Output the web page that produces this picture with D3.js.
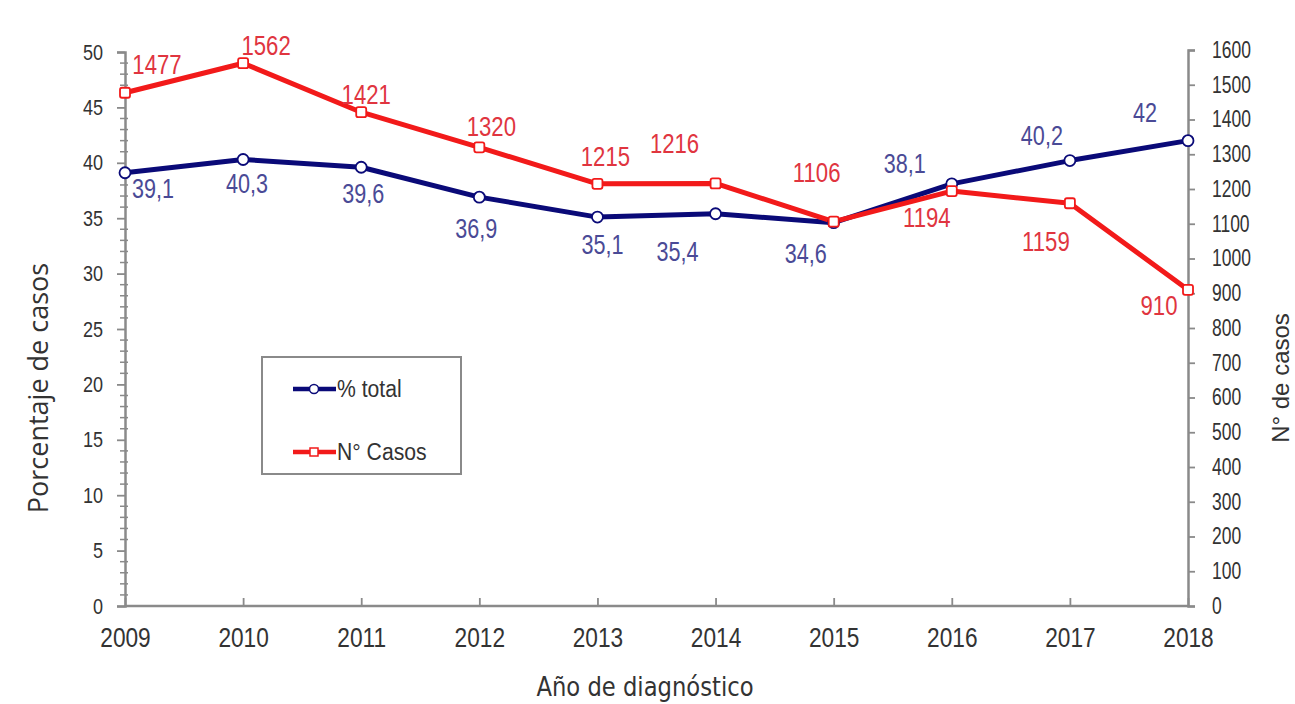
<!DOCTYPE html>
<html><head><meta charset="utf-8">
<script src="https://cdn.jsdelivr.net/npm/d3@7"></script>
<style>
body{margin:0;background:#fff;}
svg{display:block;font-family:"Liberation Sans",Arial,sans-serif;}
</style></head><body>
<svg id="c" width="1295" height="704"></svg>
<script>
const years = [2009,2010,2011,2012,2013,2014,2015,2016,2017,2018];
const pctTotal = [39.1,40.3,39.6,36.9,35.1,35.4,34.6,38.1,40.2,42];
const numCasos = [1477,1562,1421,1320,1215,1216,1106,1194,1159,910];
const pctLabels = ["39,1","40,3","39,6","36,9","35,1","35,4","34,6","38,1","40,2","42"];
const leftTicks = d3.range(0,51,5);
const rightTicks = d3.range(0,1601,100);
// label offsets (dx, dy of text centre) relative to point
const pctOff = [[28,16],[4,24],[2,26],[-3,31],[5,27],[-38,38],[-28,31],[-47,-21],[-28,-25],[-43,-28]];
const casOff = [[32,-28],[23,-18],[5,-18],[12,-21],[8,-28],[-41,-40],[-17,-49],[-25,26],[-24,38],[-29,16]];

const svg = d3.select("#c");
const x = d3.scaleLinear().domain([2009,2018]).range([125,1188]);
const yL = d3.scaleLinear().domain([0,50]).range([606,52]);
const yR = d3.scaleLinear().domain([0,1600]).range([606,50]);
const axisColor = "#8a8a8a";
const textColor = "#333";

function condense(sel, f){
  sel.each(function(){
    const w = this.getComputedTextLength();
    d3.select(this).attr("textLength", w*f).attr("lengthAdjust","spacingAndGlyphs");
  });
}

// left axis
const gL = svg.append("g").attr("transform","translate(125,0)");
gL.call(d3.axisLeft(yL).tickValues(leftTicks).tickSize(8).tickPadding(14).tickFormat(d3.format("d")));
gL.selectAll(".minor").data(d3.range(0,51,1).filter(d=>d%5)).enter().append("line")
  .attr("x1",-5).attr("x2",3).attr("y1",d=>yL(d)).attr("y2",d=>yL(d)).attr("stroke",axisColor).attr("stroke-width",1.5);
// right axis
const gR = svg.append("g").attr("transform","translate(1188,0)");
gR.call(d3.axisRight(yR).tickValues(rightTicks).tickSize(7).tickPadding(17).tickFormat(d3.format("d")));
// bottom axis
const gB = svg.append("g").attr("transform","translate(0,606)");
gB.call(d3.axisBottom(x).tickValues(years).tickSize(-8).tickPadding(22).tickFormat(d3.format("d")));
[gL,gR,gB].forEach(g=>{
  g.selectAll(".domain").attr("stroke",axisColor).attr("stroke-width",2.5);
  g.selectAll(".tick line").attr("stroke",axisColor).attr("stroke-width",1.8);
  g.selectAll(".tick text").attr("fill",textColor);
});
gL.selectAll(".tick text").attr("font-size",22).call(condense,0.82);
gR.selectAll(".tick text").attr("font-size",23).call(condense,0.76);
gB.selectAll(".tick text").attr("font-size",27).call(condense,0.84);
gB.selectAll(".domain").remove();
svg.append("line").attr("x1",125).attr("x2",1188).attr("y1",606).attr("y2",606).attr("stroke",axisColor).attr("stroke-width",2.5);

// lines
const lineP = d3.line().x((d,i)=>x(years[i])).y(d=>yL(d));
const lineC = d3.line().x((d,i)=>x(years[i])).y(d=>yR(d));
const blue = "#0a0a78", red = "#f21a1a";
svg.append("path").datum(pctTotal).attr("d",lineP).attr("fill","none").attr("stroke",blue).attr("stroke-width",5).attr("stroke-linejoin","round");
svg.append("path").datum(numCasos).attr("d",lineC).attr("fill","none").attr("stroke",red).attr("stroke-width",5).attr("stroke-linejoin","round");
svg.selectAll(".pm").data(pctTotal).enter().append("circle")
  .attr("cx",(d,i)=>x(years[i])).attr("cy",d=>yL(d)).attr("r",5.5)
  .attr("fill","#fff").attr("stroke",blue).attr("stroke-width",1.8);
svg.selectAll(".cm").data(numCasos).enter().append("rect")
  .attr("x",(d,i)=>x(years[i])-5).attr("y",d=>yR(d)-5).attr("width",10).attr("height",10).attr("rx",2)
  .attr("fill","#fff").attr("stroke",red).attr("stroke-width",1.8);

// data labels
const lblFont = 27;
svg.selectAll(".pl").data(pctTotal).enter().append("text")
  .attr("x",(d,i)=>x(years[i])+pctOff[i][0]).attr("y",(d,i)=>yL(d)+pctOff[i][1]+lblFont*0.36)
  .attr("text-anchor","middle")
  .attr("font-size",lblFont).attr("fill","#4a4a96").text((d,i)=>pctLabels[i]).call(condense,0.8);
svg.selectAll(".cl").data(numCasos).enter().append("text")
  .attr("x",(d,i)=>x(years[i])+casOff[i][0]).attr("y",(d,i)=>yR(d)+casOff[i][1]+lblFont*0.36)
  .attr("text-anchor","middle")
  .attr("font-size",lblFont).attr("fill","#e0353f").text(d=>d).call(condense,0.82);

// axis titles
svg.append("text").attr("transform","translate(48,388) rotate(-90)").attr("text-anchor","middle")
  .attr("font-size",27).attr("fill",textColor).attr("font-family","'Open Sans',sans-serif").text("Porcentaje de casos");
svg.append("text").attr("transform","translate(1289,378) rotate(-90)").attr("text-anchor","middle")
  .attr("font-size",24).attr("fill",textColor).text("N° de casos");
svg.append("text").attr("x",645).attr("y",696).attr("text-anchor","middle")
  .attr("font-size",27).attr("fill",textColor).attr("font-family","'DejaVu Sans',sans-serif").text("Año de diagnóstico").call(condense,0.84);

// legend
const lg = svg.append("g");
lg.append("rect").attr("x",262).attr("y",357).attr("width",199).attr("height",117).attr("fill","#fff").attr("stroke",axisColor).attr("stroke-width",2);
lg.append("line").attr("x1",293).attr("x2",336).attr("y1",389).attr("y2",389).attr("stroke",blue).attr("stroke-width",4.5);
lg.append("circle").attr("cx",314).attr("cy",389).attr("r",4.5).attr("fill","#fff").attr("stroke",blue).attr("stroke-width",1.5);
lg.append("text").attr("x",337).attr("y",397).attr("font-size",23).attr("fill",textColor).text("% total").call(condense,0.92);
lg.append("line").attr("x1",293).attr("x2",336).attr("y1",452).attr("y2",452).attr("stroke",red).attr("stroke-width",4.5);
lg.append("rect").attr("x",310).attr("y",448).attr("width",8).attr("height",8).attr("fill","#fff").attr("stroke",red).attr("stroke-width",1.5);
lg.append("text").attr("x",337).attr("y",460).attr("font-size",23).attr("fill",textColor).text("N° Casos").call(condense,0.92);
</script></body></html>
